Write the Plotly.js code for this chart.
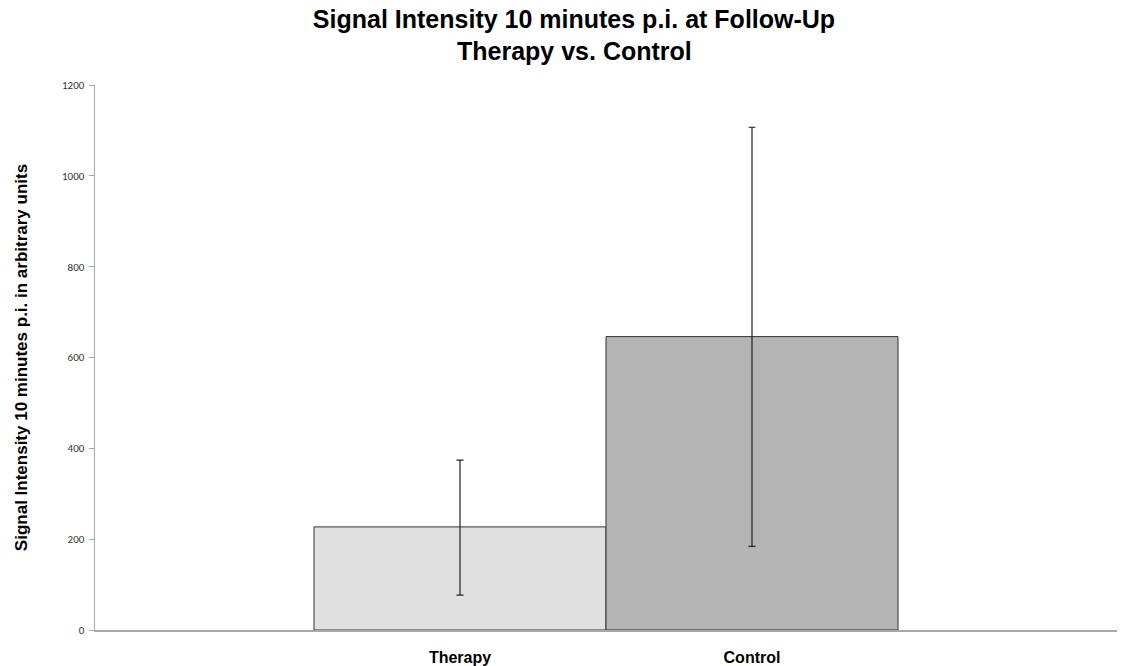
<!DOCTYPE html>
<html>
<head>
<meta charset="utf-8">
<script src="https://cdn.plot.ly/plotly-3.0.1.min.js"></script>
<style>html,body{margin:0;padding:0;background:#fff;}#chart{width:1122px;height:666px;}</style>
</head>
<body>
<div id="chart"></div>
<script>
const titleLine1 = "Signal Intensity 10 minutes p.i. at Follow-Up";
const titleLine2 = "Therapy vs. Control";
const categories = ["Therapy", "Control"];
const means = [227, 646];
const errPlus = [147, 461];
const errMinus = [150, 462];
const barColors = ["#e0e0e0", "#b4b4b4"];
const yTicks = [0, 200, 400, 600, 800, 1000, 1200];

const trace = {
  type: "bar",
  x: categories,
  y: means,
  width: 1,
  marker: { color: barColors, line: { color: "#333333", width: 1 } },
  error_y: { type: "data", symmetric: false, array: errPlus, arrayminus: errMinus, color: "#222222", thickness: 1.2, width: 3.5 },
  hoverinfo: "none"
};

const titleFont = { family: "Liberation Sans, Arial, sans-serif", size: 25, color: "#000000" };

const layout = {
  width: 1122, height: 666,
  margin: { l: 95, r: 5, t: 85, b: 36 },
  paper_bgcolor: "#ffffff", plot_bgcolor: "#ffffff",
  showlegend: false,
  title: {
    text: "<b>" + titleLine1 + "</b>",
    font: titleFont,
    xref: "paper", x: 0.4687, xanchor: "center",
    yref: "container", y: 0.9715, yanchor: "middle"
  },
  annotations: [{
    text: "<b>" + titleLine2 + "</b>",
    font: titleFont,
    xref: "paper", x: 0.4687, xanchor: "center",
    yref: "paper", y: 1.0624, yanchor: "middle",
    showarrow: false
  }],
  xaxis: {
    type: "category",
    range: [-1.25, 2.25],
    showline: true, linecolor: "#a8a8a8", linewidth: 1.5,
    ticks: "", showgrid: false, zeroline: false,
    tickfont: { family: "Liberation Sans, Arial, sans-serif", size: 16, color: "#000000", weight: "bold" },
    ticklabelstandoff: 12,
    fixedrange: true
  },
  yaxis: {
    range: [0, 1200],
    tickvals: yTicks,
    ticktext: yTicks.map(String),
    showline: true, linecolor: "#a8a8a8", linewidth: 1.5,
    ticks: "outside", ticklen: 5, tickcolor: "#a8a8a8", tickwidth: 1,
    showgrid: false, zeroline: false,
    tickfont: { family: "Carlito, Liberation Sans, Arial, sans-serif", size: 11, color: "#333333" },
    ticklabelstandoff: 2,
    automargin: false,
    title: {
      text: "<b>Signal Intensity 10 minutes p.i. in arbitrary units</b>",
      font: { family: "Liberation Sans, Arial, sans-serif", size: 17, color: "#000000" },
      standoff: 30
    },
    fixedrange: true
  },
  bargap: 0
};

Plotly.newPlot("chart", [trace], layout, { displayModeBar: false, staticPlot: true });
</script>
</body>
</html>
